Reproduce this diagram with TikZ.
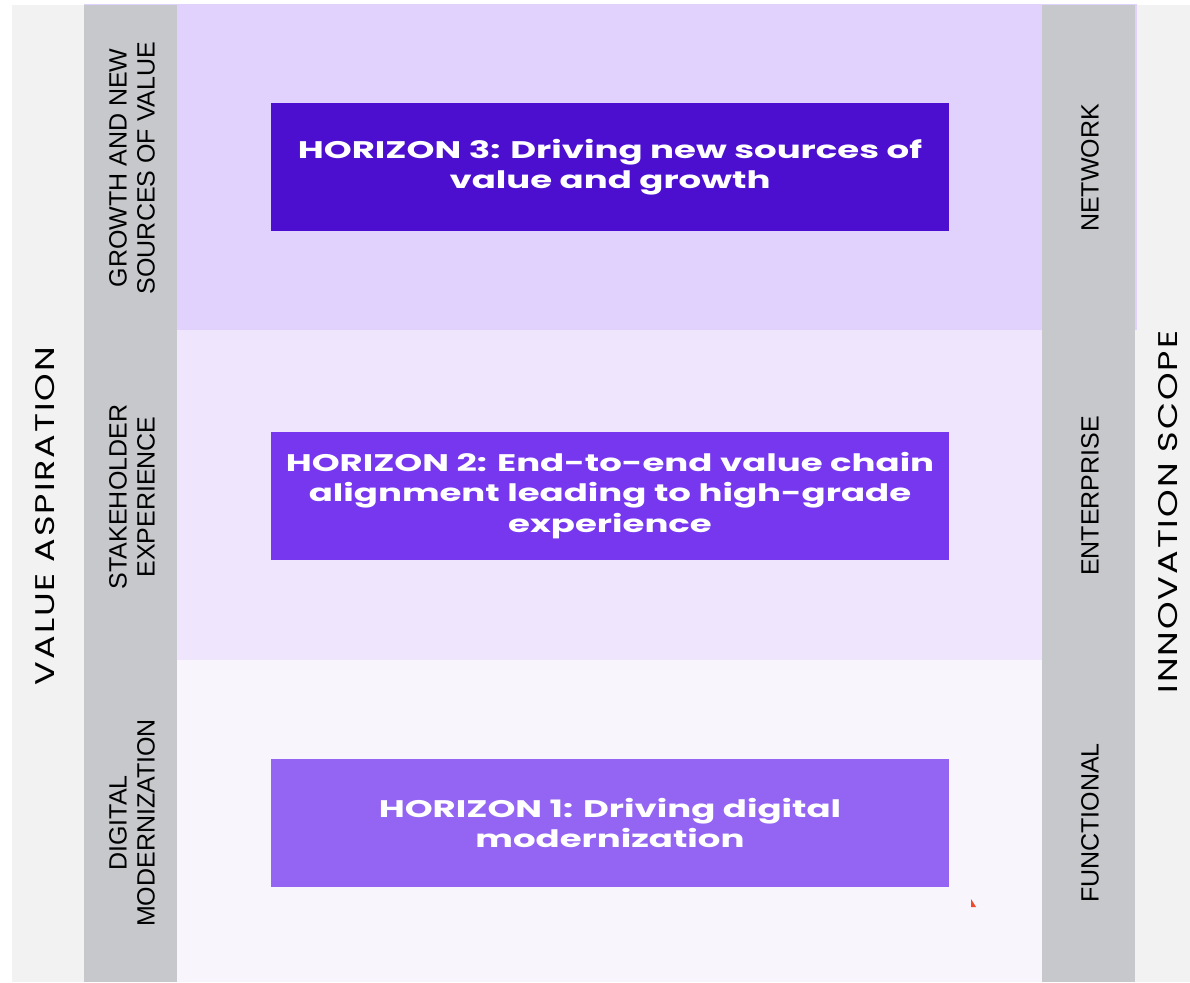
\documentclass[tikz,border=0pt]{standalone}
\usepackage{fontspec}
\setmainfont{Liberation Sans}
\newfontfamily\widefont[FakeStretch=1.3,LetterSpace=7]{Poppins}
\newfontfamily\horizonfont[FakeStretch=1.48]{Poppins}

\definecolor{outergray}{HTML}{F2F2F2}
\definecolor{colgray}{HTML}{C6C8CC}
\definecolor{bandthree}{HTML}{E1D1FD}
\definecolor{bandtwo}{HTML}{EFE6FE}
\definecolor{bandone}{HTML}{F8F5FD}
\definecolor{hthree}{HTML}{4C0FCF}
\definecolor{htwo}{HTML}{7637EF}
\definecolor{hone}{HTML}{9465F2}
\definecolor{tickred}{HTML}{F04A2A}

\tikzset{
 horizon/.style={minimum width=678pt, minimum height=128pt, inner sep=0pt,
  text=white, align=center, font=\horizonfont\bfseries\fontsize{24}{30.5}\selectfont},
 collabel/.style={rotate=90, align=center, font=\fontsize{25}{28}\selectfont},
 axislabel/.style={rotate=90, font=\widefont\fontsize{27}{30}\selectfont}
}

\begin{document}
\begin{tikzpicture}[x=1pt,y=-1pt]
 \useasboundingbox (0,0) rectangle (1190,982);
 \fill[white] (0,0) rectangle (1190,982);
 \fill[outergray] (12,5) rectangle (1190,982);

 % horizon bands
 \fill[bandthree] (84,4) rectangle (1137,330);
 \fill[bandtwo] (177,330) rectangle (1042,660);
 \fill[bandone] (177,660) rectangle (1042,982);

 % side columns
 \fill[colgray] (84,5) rectangle (177,982);
 \fill[colgray] (1042,5) rectangle (1135,982);

 \node[horizon, fill=hthree] (h3) at (610,167) {HORIZON 3: Driving new sources of\\value and growth};
 \node[horizon, fill=htwo] (h2) at (610,495.5) {HORIZON 2: End-to-end value chain\\alignment leading to high-grade\\experience};
 \node[horizon, fill=hone] (h1) at (610,823) {HORIZON 1: Driving digital\\modernization};

 \node[collabel] (growth) at (132,168) {GROWTH AND NEW\\SOURCES OF VALUE};
 \node[collabel] (stake) at (132,497) {STAKEHOLDER\\EXPERIENCE};
 \node[collabel] (digital) at (132,823) {DIGITAL\\MODERNIZATION};

 \node[collabel] (network) at (1090,168) {NETWORK};
 \node[collabel] (enterprise) at (1090,496) {ENTERPRISE};
 \node[collabel] (functional) at (1090,823) {FUNCTIONAL};

 \node[axislabel] (aspiration) at (45,516) {VALUE ASPIRATION};
 \node[axislabel] (scope) at (1168,512) {INNOVATION SCOPE};

 \fill[tickred] (971,899) -- (971,907) -- (976,907) -- cycle;
\end{tikzpicture}
\end{document}
